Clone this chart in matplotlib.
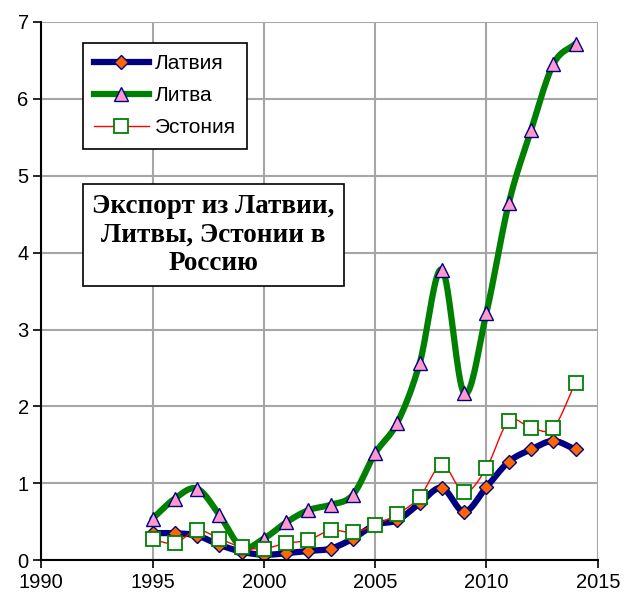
import numpy as np
import matplotlib.pyplot as plt

years = list(range(1995, 2015))
latvia = [0.35, 0.35, 0.32, 0.20, 0.11, 0.07, 0.09, 0.12, 0.15, 0.28,
          0.46, 0.52, 0.74, 0.94, 0.63, 0.95, 1.28, 1.44, 1.55, 1.44]
lithuania = [0.54, 0.80, 0.93, 0.59, 0.17, 0.28, 0.49, 0.65, 0.72, 0.85,
             1.39, 1.79, 2.56, 3.78, 2.17, 3.22, 4.64, 5.59, 6.45, 6.72]
estonia = [0.27, 0.22, 0.39, 0.28, 0.17, 0.15, 0.22, 0.26, 0.39, 0.36,
           0.46, 0.60, 0.82, 1.24, 0.88, 1.20, 1.81, 1.72, 1.72, 2.31]


# smoothed line like Excel's "smoothed line" option (Catmull-Rom through the points)
def smooth(x, y, n=20):
    x = np.asarray(x, float)
    y = np.asarray(y, float)
    px = np.concatenate([[2 * x[0] - x[1]], x, [2 * x[-1] - x[-2]]])
    py = np.concatenate([[2 * y[0] - y[1]], y, [2 * y[-1] - y[-2]]])
    xs, ys = [], []
    t = np.linspace(0, 1, n, endpoint=False)
    for i in range(1, len(px) - 2):
        for p, out in ((px, xs), (py, ys)):
            p0, p1, p2, p3 = p[i - 1], p[i], p[i + 1], p[i + 2]
            out.extend(0.5 * (2 * p1 + (-p0 + p2) * t
                              + (2 * p0 - 5 * p1 + 4 * p2 - p3) * t ** 2
                              + (-p0 + 3 * p1 - 3 * p2 + p3) * t ** 3))
    xs.append(x[-1])
    ys.append(y[-1])
    return np.array(xs), np.array(ys)


plt.rcParams['font.family'] = ['Liberation Sans', 'DejaVu Sans']

fig = plt.figure(figsize=(6.24, 5.94), dpi=100)
ax = fig.add_axes([0.066, 0.057, 0.892, 0.906])

series = [
    ('Латвия', latvia, dict(color='#000080', lw=4.5), dict(marker='D', ms=7, mfc='#FF6600', mec='#000080', mew=1)),
    ('Литва', lithuania, dict(color='#008000', lw=4.5), dict(marker='^', ms=10, mfc='#FF99CC', mec='#000080', mew=1)),
    ('Эстония', estonia, dict(color='#FF0000', lw=1), dict(marker='s', ms=10, mfc='white', mec='#008000', mew=1.3)),
]
handles = []
for name, vals, lstyle, mstyle in series:
    sx, sy = smooth(years, vals)
    ax.plot(sx, sy, solid_capstyle='round', zorder=3, **lstyle)
    ax.plot(years, vals, ls='none', zorder=4, **mstyle)
    h, = ax.plot([], [], label=name, **lstyle, **mstyle)
    handles.append(h)

ax.set_xlim(1990, 2015)
ax.set_ylim(0, 7)
ax.set_xticks(range(1990, 2016, 5))
ax.set_yticks(range(0, 8))
ax.grid(True, color='#A6A6A6', lw=1.5)
ax.set_axisbelow(True)
for s in ['top', 'right']:
    ax.spines[s].set_visible(False)
for s in ['left', 'bottom']:
    ax.spines[s].set_color('black')
    ax.spines[s].set_linewidth(1.5)
    ax.spines[s].set_zorder(5)
ax.tick_params(direction='out', length=6, width=1.2, labelsize=14.5, pad=3)

leg = ax.legend(handles=handles, loc='upper left', bbox_to_anchor=(0.075, 0.961),
                borderaxespad=0, fontsize=15, frameon=True, fancybox=False,
                edgecolor='black', framealpha=1, handlelength=2.6,
                borderpad=0.55, labelspacing=0.62, handletextpad=0.3)
leg.get_frame().set_linewidth(1.2)

ax.text(0.309, 0.604, 'Экспорт из Латвии,\nЛитвы, Эстонии в\nРоссию',
        transform=ax.transAxes, ha='center', va='center', fontsize=19.5,
        fontweight='bold', family=['Liberation Serif', 'DejaVu Serif'],
        linespacing=1.2, zorder=6,
        bbox=dict(boxstyle='square,pad=0.35', fc='white', ec='black', lw=1.2))

fig.savefig('out.png', dpi=100)
